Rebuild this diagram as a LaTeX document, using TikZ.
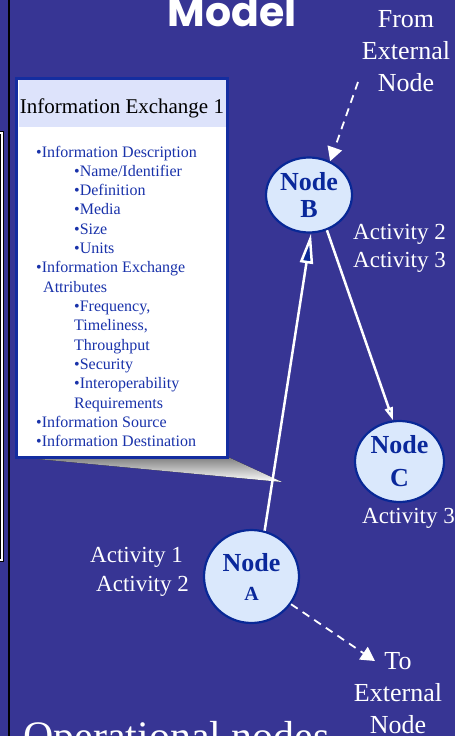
\documentclass[tikz,border=0pt]{standalone}
\usepackage{fontspec}
\setmainfont{Liberation Serif}
\newfontfamily\titlefont{Poppins}
\usetikzlibrary{shapes.geometric,arrows.meta}
\definecolor{bg}{RGB}{55,53,148}
\definecolor{nodefill}{RGB}{218,232,252}
\definecolor{nodeline}{RGB}{8,40,150}
\definecolor{nodetext}{RGB}{10,40,155}
\definecolor{itemblue}{RGB}{25,50,170}
\definecolor{hdrfill}{RGB}{221,227,251}
\definecolor{boxline}{RGB}{20,45,160}
\definecolor{shade}{RGB}{140,140,140}
\definecolor{headblue}{RGB}{10,40,150}
\tikzset{
  opnode/.style={ellipse, draw=nodeline, line width=2.2pt, fill=nodefill, text=nodetext,
    font=\bfseries\fontsize{26}{27}\selectfont, align=center, inner sep=0pt},
  whitetxt/.style={text=white, inner sep=0pt, align=center},
  item/.style={anchor=base west, text=itemblue, font=\fontsize{16}{19}\selectfont, inner sep=0pt},
  flow/.style={draw=white, line width=2.5pt},
  extflow/.style={draw=white, line width=1.8pt, dash pattern=on 8pt off 6pt,
    -{Triangle[length=14pt,width=15pt,fill=white]}}
}
\begin{document}
\begin{tikzpicture}[x=1pt,y=-1pt]
\useasboundingbox (0,0) rectangle (455,736);
\clip (0,0) rectangle (455,736);
\fill[bg] (0,0) rectangle (455,736);
% left edge pieces
\draw[black, line width=3.5pt] (-6,133) rectangle (2,560);
\draw[white, line width=1.4pt] (-6,133) rectangle (2,560);
\draw[black, line width=2pt] (9,-2) -- (9,740);
% title
\node[text=white, anchor=base, inner sep=0pt, font=\titlefont\bfseries\fontsize{41}{41}\selectfont] (title) at (232,26) {Model};
% callout shade
\fill[shade] (16,457) -- (228,457) -- (282,482) -- cycle;
% info box
\node[draw=boxline, line width=3pt, fill=white, minimum width=211pt, minimum height=379pt, inner sep=0pt] (box) at (122,267.5) {};
\node[fill=hdrfill, minimum width=207pt, minimum height=47.5pt, inner sep=0pt] (hdr) at (122,103.5) {};
\node[anchor=base, inner sep=0pt, font=\fontsize{21}{21}\selectfont] (hdrtxt) at (122,113) {Information Exchange 1};
\foreach \k/\x/\t in {0/36/{\textbullet Information Description},
  1/74/{\textbullet Name/Identifier},
  2/74/{\textbullet Definition},
  3/74/{\textbullet Media},
  4/74/{\textbullet Size},
  5/74/{\textbullet Units},
  6/36/{\textbullet Information Exchange},
  7/43/{Attributes},
  8/74/{\textbullet Frequency,},
  9/74/{Timeliness,},
  10/74/{Throughput},
  11/74/{\textbullet Security},
  12/74/{\textbullet Interoperability},
  13/74/{Requirements},
  14/36/{\textbullet Information Source},
  15/36/{\textbullet Information Destination}}
  \node[item] (i\k) at (\x,157+19.33*\k) {\t};
% operational nodes
\node[opnode, minimum width=86pt, minimum height=75pt] (B) at (309,195) {Node\\B};
\node[opnode, minimum width=89pt, minimum height=81pt, font=\bfseries\fontsize{26}{33}\selectfont] (C) at (399.5,461.5) {Node\\C};
\node[opnode, minimum width=95pt, minimum height=93pt] (A) at (251.5,576.5) {Node\\[2pt]{\fontsize{20}{20}\selectfont A}};
% connectors
\draw[flow, -{Triangle[length=30pt,width=13pt,fill=headblue]}] (A.74) -- (B.-87);
\draw[flow, -{Triangle[length=13pt,width=8pt,fill=headblue]}] (B.-63) -- (C.99);
\coordinate (extin) at (358,82);
\coordinate (extout) at (375,661);
\draw[extflow] (extin) -- (B.58);
\draw[extflow] (A.-35) -- (extout);
% labels
\node[whitetxt, font=\fontsize{26}{32}\selectfont, anchor=base] (fromext) at (406,91) {From\\External\\Node};
\node[whitetxt, font=\fontsize{26}{32}\selectfont, anchor=base] (toext) at (398,733) {To\\External\\Node};
\node[whitetxt, font=\fontsize{23}{28}\selectfont, anchor=base west, align=left] (actB) at (353,267) {Activity 2\\Activity 3};
\node[whitetxt, font=\fontsize{23}{28}\selectfont, anchor=base west] (actC) at (362,523) {Activity 3};
\node[whitetxt, font=\fontsize{23}{28}\selectfont, anchor=base west] (actA1) at (90,562) {Activity 1};
\node[whitetxt, font=\fontsize{23}{28}\selectfont, anchor=base west] (actA2) at (96,591) {Activity 2};
\node[whitetxt, font=\fontsize{42}{42}\selectfont, anchor=base west] (opn) at (23,750) {Operational nodes};
\end{tikzpicture}
\end{document}
